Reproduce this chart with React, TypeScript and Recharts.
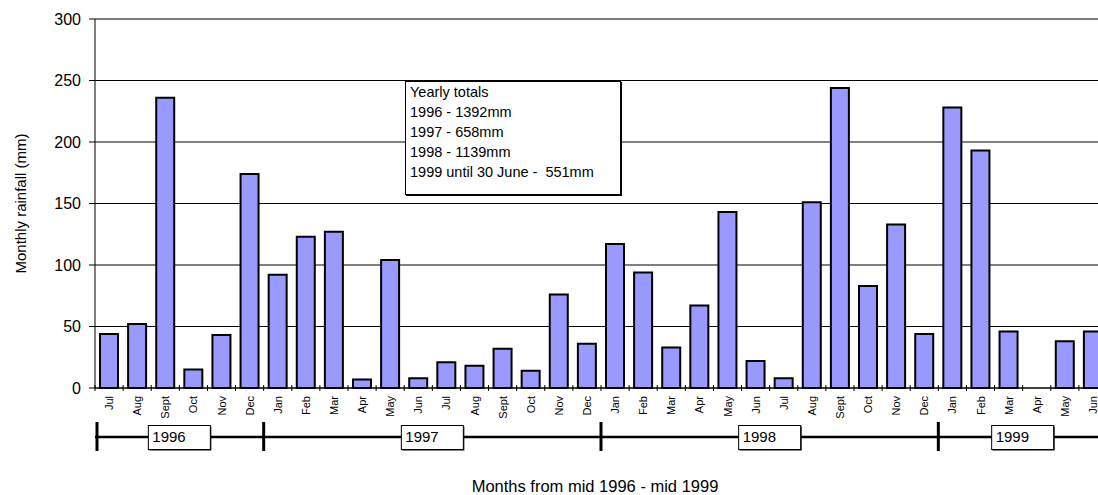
import React from "react";
import { BarChart, Bar, XAxis, YAxis, CartesianGrid } from "recharts";

// Jul 1996 .. Jun 1999
const months = [
  "Jul", "Aug", "Sept", "Oct", "Nov", "Dec",
  "Jan", "Feb", "Mar", "Apr", "May", "Jun", "Jul", "Aug", "Sept", "Oct", "Nov", "Dec",
  "Jan", "Feb", "Mar", "Apr", "May", "Jun", "Jul", "Aug", "Sept", "Oct", "Nov", "Dec",
  "Jan", "Feb", "Mar", "Apr", "May", "Jun",
];
const rainfall = [
  44, 52, 236, 15, 43, 174,
  92, 123, 127, 7, 104, 8, 21, 18, 32, 14, 76, 36,
  117, 94, 33, 67, 143, 22, 8, 151, 244, 83, 133, 44,
  228, 193, 46, 0, 38, 46,
];
const yTicks = [0, 50, 100, 150, 200, 250, 300];
const years = ["1996", "1997", "1998", "1999"];
const yearStarts = [0, 6, 18, 30]; // month index where each year starts
const yearEnd = 36;
const totals = [
  "Yearly totals",
  "1996 - 1392mm",
  "1997 - 658mm",
  "1998 - 1139mm",
  "1999 until 30 June -  551mm",
];

const data = months.map((m, i) => ({ idx: i, month: m, rain: rainfall[i] }));
// middle of each year's span, as a month boundary index
const yearMids = yearStarts.map((s, i) => (s + (yearStarts[i + 1] ?? yearEnd)) / 2);

function MonthTick({ x, y, payload }: any) {
  const half = payload.offset || 14;
  return (
    <g>
      <line x1={x - half} x2={x - half} y1={y - 11} y2={y - 5} stroke="#000" />
      <text
        transform={`translate(${x},${y}) rotate(-90)`}
        textAnchor="end"
        dominantBaseline="central"
        fontSize={11}
        fill="#000"
      >
        {months[payload.value]}
      </text>
    </g>
  );
}

// timeline below the months: thick marks at year starts, boxed year at each span's middle
function YearTick({ x, y, payload }: any) {
  const i = payload.value;
  const bx = x - (payload.offset || 14);
  const start = yearStarts.indexOf(i);
  const k = yearMids.indexOf(i);
  return (
    <g>
      {start >= 0 && (
        <line x1={bx + (i === 0 ? 2 : 0)} x2={bx + (i === 0 ? 2 : 0)} y1={y - 15} y2={y + 14} stroke="#000" strokeWidth={3} />
      )}
      {k >= 0 && (
        <g>
          <rect x={bx - 30} y={y - 10.5} width={62} height={24} fill="#000" />
          <rect x={bx - 31} y={y - 11.5} width={62} height={24} fill="#fff" stroke="#000" strokeWidth={1} />
          <text x={bx - 27} y={y + 5} fontSize={15} fill="#000">
            {years[k]}
          </text>
        </g>
      )}
    </g>
  );
}

function YTitle({ viewBox }: any) {
  const cx = viewBox.x + 20;
  const cy = viewBox.y + viewBox.height / 2;
  return (
    <text x={cx} y={cy} transform={`rotate(-90 ${cx} ${cy})`} textAnchor="middle" dominantBaseline="central" fontSize={15} fill="#000">
      Monthly rainfall (mm)
    </text>
  );
}

function XTitle({ viewBox }: any) {
  const cx = viewBox.x + viewBox.width / 2 - 6;
  return (
    <text x={cx} y={viewBox.y + viewBox.height - 3} textAnchor="middle" fontSize={16.5} fill="#000">
      Months from mid 1996 - mid 1999
    </text>
  );
}

export default function App() {
  return (
    <div
      style={{
        position: "fixed",
        left: 0,
        top: 0,
        width: 1098,
        height: 495,
        overflow: "hidden",
        background: "#fff",
        fontFamily: "'Liberation Sans', Arial, sans-serif",
      }}
    >
      <BarChart width={1110} height={495} data={data} margin={{ top: 19, right: 3, left: 0, bottom: 0 }}>
        <CartesianGrid vertical={false} stroke="#000" />
        <YAxis
          domain={[0, 300]}
          ticks={yTicks}
          interval={0}
          width={95}
          tickSize={6}
          tickMargin={8}
          axisLine={{ stroke: "#000" }}
          tickLine={{ stroke: "#000" }}
          tick={{ fill: "#000", fontSize: 16 }}
          label={<YTitle />}
        />
        <XAxis
          dataKey="idx"
          type="category"
          interval={0}
          height={49}
          tickSize={0}
          tickMargin={8}
          tickLine={false}
          axisLine={{ stroke: "#000" }}
          tick={<MonthTick />}
        />
        <XAxis
          xAxisId="yr"
          dataKey="idx"
          type="category"
          interval={0}
          height={58}
          tickSize={0}
          tickMargin={0}
          tickLine={false}
          axisLine={{ stroke: "#000", strokeWidth: 2.3 }}
          tick={<YearTick />}
          label={<XTitle />}
        />
        <Bar dataKey="rain" barSize={18} fill="#9999FF" stroke="#000" strokeWidth={2} isAnimationActive={false} />
      </BarChart>
      <div
        style={{
          position: "absolute",
          left: 405,
          top: 81,
          width: 216,
          height: 114,
          border: "1px solid #000",
          boxShadow: "1px 1px 0 #000",
          background: "#fff",
          padding: "0 4px",
          boxSizing: "border-box",
          fontSize: 14.5,
          lineHeight: "20px",
          color: "#000",
          whiteSpace: "pre",
        }}
      >
        {totals.map((t) => (
          <div key={t}>{t}</div>
        ))}
      </div>
    </div>
  );
}
